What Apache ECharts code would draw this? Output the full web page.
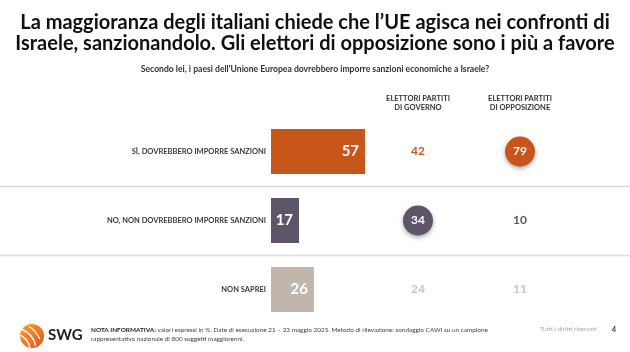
<!DOCTYPE html>
<html>
<head>
<meta charset="utf-8">
<script src="https://cdn.jsdelivr.net/npm/echarts@6/dist/echarts.min.js"></script>
<style>
  html, body { margin: 0; padding: 0; background: #fff; }
  #chart { width: 630px; height: 352px; }
</style>
</head>
<body>
<div id="chart"></div>
<script>
// dati del grafico
const categories = ['SÌ, DOVREBBERO IMPORRE SANZIONI', 'NO, NON DOVREBBERO IMPORRE SANZIONI', 'NON SAPREI'];
const totalValues = [57, 17, 26];
const columns = ['ELETTORI PARTITI\nDI GOVERNO', 'ELETTORI PARTITI\nDI OPPOSIZIONE'];
const governoValues = [42, 34, 24];
const opposizioneValues = [79, 10, 11];
const governoCircled = [false, true, false];
const opposizioneCircled = [true, false, false];

const rowColors = ['#C8561B', '#5F5569', '#C0B6AD'];
const textColors = ['#C8561B', '#5F5569', '#CBC2BA'];
const FONT = 'Lato';

const chart = echarts.init(document.getElementById('chart'));

// serie a pallini / numeri per le colonne
const columnSeries = (colIndex, values, circled) => ({
  type: 'scatter',
  xAxisIndex: 1,
  yAxisIndex: 1,
  symbol: 'circle',
  silent: true,
  data: values.map((v, i) => ({
    value: [colIndex, i, v],
    symbolSize: circled[i] ? 30 : 1,
    itemStyle: circled[i]
      ? { color: rowColors[i], opacity: 1, shadowBlur: 4, shadowOffsetY: 2, shadowColor: 'rgba(0,0,0,0.35)' }
      : { color: 'rgba(0,0,0,0)', opacity: 1 },
    label: { color: circled[i] ? '#ffffff' : textColors[i] },
  })),
  label: {
    show: true,
    position: 'inside',
    formatter: (p) => p.value[2],
    fontFamily: FONT,
    fontSize: 12,
    fontWeight: 'bold',
  },
});

const option = {
  animation: false,
  title: {
    text: 'La maggioranza degli italiani chiede che l’UE agisca nei confronti di\nIsraele, sanzionandolo. Gli elettori di opposizione sono i più a favore',
    left: 'center',
    top: 7,
    textStyle: {
      fontFamily: FONT,
      fontSize: 20,
      fontWeight: 'bold',
      lineHeight: 21,
      color: '#111',
    },
  },
  grid: [
    { left: 271, right: 194, top: 117, height: 207 },
    { left: 367, width: 204, top: 117, height: 207 },
  ],
  xAxis: [
    { type: 'value', gridIndex: 0, min: 0, max: 100, show: false },
    {
      type: 'category',
      gridIndex: 1,
      data: columns,
      position: 'top',
      axisLine: { show: false },
      axisTick: { show: false },
      axisLabel: {
        margin: 5,
        fontFamily: FONT,
        fontSize: 7.5,
        fontWeight: 'bold',
        lineHeight: 9,
        color: '#333',
      },
    },
  ],
  yAxis: [
    {
      type: 'category',
      gridIndex: 0,
      data: categories,
      inverse: true,
      axisLine: { show: false },
      axisTick: { show: false },
      axisLabel: {
        margin: 5,
        fontFamily: FONT,
        fontSize: 7.5,
        fontWeight: 'bold',
        color: '#3a3a3a',
      },
    },
    { type: 'category', gridIndex: 1, data: categories, inverse: true, show: false },
  ],
  series: [
    {
      type: 'bar',
      xAxisIndex: 0,
      yAxisIndex: 0,
      barWidth: 45,
      silent: true,
      data: totalValues.map((v, i) => ({ value: v, itemStyle: { color: rowColors[i] } })),
      label: {
        show: true,
        position: 'insideRight',
        distance: 6,
        color: '#fff',
        fontFamily: FONT,
        fontSize: 15,
        fontWeight: 'bold',
      },
    },
    columnSeries(0, governoValues, governoCircled),
    columnSeries(1, opposizioneValues, opposizioneCircled),
  ],
};

chart.setOption(option);

// linee separatrici tra le righe + testi a contorno
const ys = categories.map((c) => chart.convertToPixel({ yAxisIndex: 0 }, c));
const separators = [];
for (let i = 0; i < ys.length - 1; i++) {
  const y = Math.round((ys[i] + ys[i + 1]) / 2) + 0.5;
  separators.push({
    type: 'line',
    shape: { x1: 0, y1: y, x2: 630, y2: y },
    style: { stroke: '#dcdcdc', lineWidth: 1.5 },
    silent: true,
  });
}

chart.setOption({
  graphic: [
    ...separators,
    {
      type: 'text',
      left: 'center',
      top: 65,
      style: {
        text: "Secondo lei, i paesi dell'Unione Europea dovrebbero imporre sanzioni economiche a Israele?",
        fontFamily: FONT,
        fontSize: 8.6,
        fontWeight: 'bold',
        fill: '#333',
      },
    },
    // logo SWG
    {
      type: 'circle',
      shape: { cx: 32, cy: 336, r: 12 },
      style: {
        fill: new echarts.graphic.LinearGradient(0, 0, 1, 1, [
          { offset: 0, color: '#F9A533' },
          { offset: 1, color: '#E4501B' },
        ]),
      },
    },
    {
      type: 'arc',
      shape: { cx: 14, cy: 350, r: 22, startAngle: -1.2, endAngle: -0.2 },
      style: { stroke: '#fff', lineWidth: 1.4, fill: null },
    },
    {
      type: 'arc',
      shape: { cx: 14, cy: 350, r: 16, startAngle: -1.3, endAngle: -0.1 },
      style: { stroke: '#fff', lineWidth: 1.4, fill: null },
    },
    {
      type: 'arc',
      shape: { cx: 14, cy: 350, r: 28, startAngle: -1.0, endAngle: -0.4 },
      style: { stroke: '#fff', lineWidth: 1.2, fill: null },
    },
    {
      type: 'text',
      x: 48,
      y: 328,
      style: { text: 'SWG', fontFamily: FONT, fontSize: 15, fontWeight: 'bold', fill: '#222' },
    },
    {
      type: 'text',
      x: 91,
      y: 325,
      style: {
        text: '{b|NOTA INFORMATIVA:} valori espressi in %. Date di esecuzione 21 – 23 maggio 2025. Metodo di rilevazione: sondaggio CAWI su un campione\nrappresentativo nazionale di 800 soggetti maggiorenni.',
        fontFamily: FONT,
        fontSize: 6.4,
        lineHeight: 9.5,
        fill: '#444',
        rich: { b: { fontWeight: 'bold', fontFamily: FONT, fontSize: 6.4, fill: '#222' } },
      },
    },
    {
      type: 'text',
      x: 540,
      y: 326,
      style: { text: 'Tutti i diritti riservati', fontFamily: FONT, fontSize: 6.4, fill: '#aaa' },
    },
    {
      type: 'text',
      x: 612,
      y: 326,
      style: { text: '4', fontFamily: FONT, fontSize: 7, fontWeight: 'bold', fill: '#333' },
    },
  ],
});

window.addEventListener('resize', () => chart.resize());
</script>
</body>
</html>
